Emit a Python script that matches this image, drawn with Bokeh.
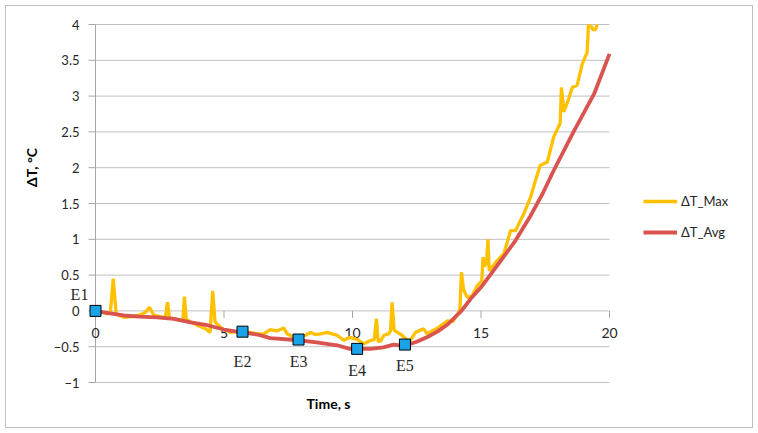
import math
from bokeh.plotting import figure
from bokeh.models import (Legend, LegendItem, ColumnDataSource, Range1d)
from bokeh.core.properties import value
from bokeh.embed import file_html
from bokeh.resources import INLINE

# ---- data ----
time_max = [0, 0.25, 0.45, 0.58, 0.69, 0.8, 0.9, 1.1, 1.4, 1.7, 1.95, 2.1, 2.27, 2.5,
            2.72, 2.8, 2.88, 3.05, 3.31, 3.4, 3.46, 3.53, 3.7, 3.96, 4.28, 4.46, 4.56,
            4.65, 4.75, 4.93, 5.25, 5.5, 5.77, 6.03, 6.29, 6.55, 6.8, 7.05, 7.33, 7.46,
            7.72, 7.95, 8.17, 8.37, 8.55, 8.75, 9.02, 9.2, 9.4, 9.66, 9.9, 10.2, 10.44,
            10.65, 10.85, 10.93, 11.0, 11.1, 11.22, 11.41, 11.48, 11.54, 11.62, 11.75,
            11.93, 12.2, 12.45, 12.77, 12.9, 13.3, 13.7, 13.9, 14.1, 14.18, 14.24,
            14.32, 14.46, 14.66, 14.85, 15.03, 15.08, 15.15, 15.22, 15.27, 15.32,
            15.62, 15.89, 16.15, 16.34, 16.67, 16.93, 17.06, 17.3, 17.58, 17.83,
            18.08, 18.13, 18.18, 18.22, 18.4, 18.55, 18.74, 18.94, 19.13, 19.18,
            19.3, 19.35, 19.46, 19.52]
dt_max = [0.0, -0.02, -0.04, -0.02, 0.45, -0.03, -0.06, -0.09, -0.08, -0.06, -0.02, 0.05,
          -0.06, -0.08, -0.09, 0.12, -0.09, -0.11, -0.13, -0.12, 0.20, -0.12, -0.15,
          -0.20, -0.25, -0.30, 0.28, -0.15, -0.19, -0.25, -0.30, -0.29, -0.30, -0.30,
          -0.32, -0.32, -0.26, -0.28, -0.24, -0.32, -0.37, -0.36, -0.34, -0.30, -0.33,
          -0.32, -0.30, -0.32, -0.34, -0.41, -0.37, -0.40, -0.46, -0.42, -0.40, -0.11,
          -0.43, -0.42, -0.34, -0.32, -0.28, 0.12, -0.27, -0.30, -0.34, -0.44, -0.30,
          -0.25, -0.32, -0.24, -0.14, -0.15, -0.04, 0.03, 0.54, 0.30, 0.19, 0.21,
          0.35, 0.42, 0.75, 0.62, 0.70, 1.00, 0.56, 0.70, 0.80, 1.12, 1.12, 1.36,
          1.59, 1.75, 2.03, 2.08, 2.43, 2.62, 3.12, 2.95, 2.78, 2.95, 3.12, 3.15,
          3.45, 3.61, 3.99, 3.97, 3.93, 3.93, 4.0]

time_avg = [0, 0.5, 1.1, 1.7, 2.4, 3.05, 3.7, 4.35, 4.99, 5.7, 6.3, 6.8, 7.9, 8.6, 9.4,
            9.9, 10.7, 11.2, 11.6, 12.0, 12.5, 13.0, 13.3, 13.7, 14.24, 14.6, 15.0, 15.6,
            16.3, 16.9, 17.4, 17.8, 18.6, 19.4, 20.0]
dt_avg = [0.0, -0.03, -0.064, -0.08, -0.09, -0.11, -0.16, -0.20, -0.26, -0.30, -0.33,
          -0.38, -0.41, -0.44, -0.48, -0.53, -0.53, -0.51, -0.47, -0.49, -0.43, -0.35,
          -0.29, -0.19, 0.0, 0.17, 0.33, 0.62, 0.96, 1.31, 1.64, 1.94, 2.50, 3.03, 3.59]

event_names = ["E1", "E2", "E3", "E4", "E5"]
event_time = [0.0, 5.72, 7.9, 10.18, 12.04]
event_dt = [0.0, -0.29, -0.40, -0.53, -0.47]

x_ticks = [0, 5, 10, 15, 20]
x_tick_labels = ["0", "5", "10", "15", "20"]
y_ticks = [-1, -0.5, 0, 0.5, 1, 1.5, 2, 2.5, 3, 3.5, 4]
y_tick_labels = ["\u22121", "\u22120.5", "0", "0.5", "1", "1.5", "2", "2.5", "3", "3.5", "4"]

series_names = ["\u0394T_Max", "\u0394T_Avg"]
x_title = "Time, s"
y_title = "\u0394T, \u00b0C"

# ---- layout (pixels in the 758x433 page) ----
W, H = 758, 433
PX_L, PX_R, PX_T, PX_B = 95, 609, 24, 382       # plot area of the chart
X0, X1 = x_ticks[0], x_ticks[-1]
Y0, Y1 = y_ticks[0], y_ticks[-1]
KX = (PX_R - PX_L) / (X1 - X0)                   # px per second
KY = (PX_B - PX_T) / (Y1 - Y0)                   # px per degree

def dx(px):   # page x pixel -> data x
    return X0 + (px - PX_L) / KX

def dy(py):   # page y pixel -> data y
    return Y1 - (py - PX_T) / KY

GRID = "#BFBFBF"
AXIS = "#A6A6A6"
TXT = "#262626"
FONT = "Lato"

# the frame covers the whole page so that no text is clipped
p = figure(width=W, height=H, x_range=Range1d(dx(0), dx(W)), y_range=Range1d(dy(H), dy(0)),
           output_backend="svg", toolbar_location=None,
           x_axis_location=None, y_axis_location=None,
           min_border=0, min_border_left=0, min_border_right=0,
           min_border_top=0, min_border_bottom=0)
p.outline_line_color = None
p.background_fill_color = None
p.border_fill_color = None
p.styles = {"outline": "1px solid #BFBFBF", "outline-offset": "-6px"}
p.grid.visible = False

# horizontal gridlines
p.segment(x0=[X0] * len(y_ticks), x1=[X1] * len(y_ticks), y0=y_ticks, y1=y_ticks,
          line_color=GRID, line_width=1)
# y axis line and ticks
p.segment(x0=[X0], x1=[X0], y0=[Y0], y1=[Y1], line_color=AXIS, line_width=1)
p.segment(x0=[X0] * len(y_ticks), x1=[X0 - 7 / KX] * len(y_ticks), y0=y_ticks, y1=y_ticks,
          line_color=AXIS, line_width=1)
p.text(x=[X0] * len(y_ticks), y=y_ticks, text=y_tick_labels, x_offset=-16,
       text_align="right", text_baseline="middle", text_font=value(FONT),
       text_font_size="13px", text_color=TXT)
# x axis (crossing at 0) ticks and labels
p.segment(x0=x_ticks, x1=x_ticks, y0=[0] * len(x_ticks), y1=[-7 / KY] * len(x_ticks),
          line_color=AXIS, line_width=1)
p.text(x=x_ticks, y=[0] * len(x_ticks), text=x_tick_labels, y_offset=22,
       text_align="center", text_baseline="middle", text_font=value(FONT),
       text_font_size="14px", text_color=TXT)

# axis titles
p.text(x=[dx(328)], y=[dy(403)], text=[x_title], text_align="center",
       text_baseline="middle", text_font=value(FONT), text_font_style="bold",
       text_font_size="14px", text_color="black")
p.text(x=[dx(31)], y=[dy(167)], text=[y_title], angle=math.pi / 2,
       text_align="center", text_baseline="middle", text_font=value(FONT),
       text_font_style="bold", text_font_size="14px", text_color="black")

# series
r_max = p.line(time_max, dt_max, line_color="#FFC000", line_width=3.3)
r_avg = p.line(time_avg, dt_avg, line_color="#D9534F", line_width=3.8)

ev_src = ColumnDataSource(dict(x=event_time, y=event_dt, text=event_names,
                               ox=[-16, 0, 0, 0, 0], oy=[-16, 30, 22, 22, 21]))
p.scatter("x", "y", source=ev_src, marker="square", size=11,
          fill_color="#1AA3E8", line_color="black", line_width=1)
p.text(x="x", y="y", text="text", source=ev_src, x_offset="ox", y_offset="oy",
       text_align="center", text_baseline="middle",
       text_font=value("Liberation Serif"), text_font_size="16px", text_color=TXT)

legend = Legend(items=[LegendItem(label=series_names[0], renderers=[r_max]),
                       LegendItem(label=series_names[1], renderers=[r_avg])],
                location=(643, H - 242), padding=0, margin=0, spacing=11,
                glyph_width=34, glyph_height=20, label_standoff=4,
                border_line_color=None, background_fill_alpha=0,
                label_text_font=FONT, label_text_font_size="13px",
                label_text_color=TXT)
p.add_layout(legend)

open("out.html", "w").write(file_html(p, INLINE))
